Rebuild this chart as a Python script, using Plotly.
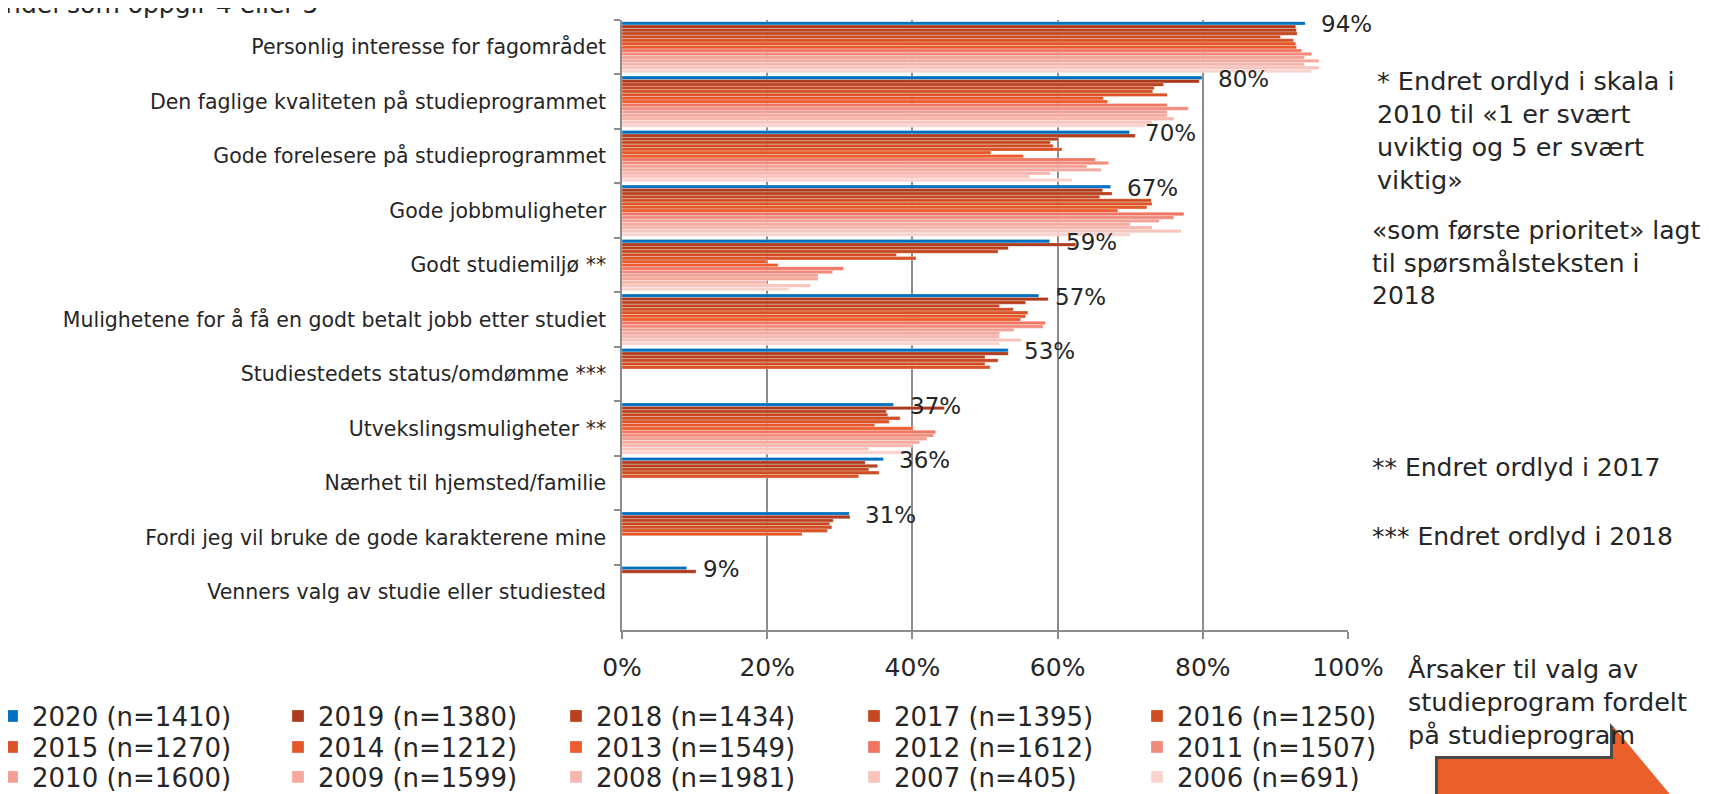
import plotly.graph_objects as go

categories = [
    "Personlig interesse for fagområdet",
    "Den faglige kvaliteten på studieprogrammet",
    "Gode forelesere på studieprogrammet",
    "Gode jobbmuligheter",
    "Godt studiemiljø **",
    "Mulighetene for å få en godt betalt jobb etter studiet",
    "Studiestedets status/omdømme ***",
    "Utvekslingsmuligheter **",
    "Nærhet til hjemsted/familie",
    "Fordi jeg vil bruke de gode karakterene mine",
    "Venners valg av studie eller studiested",
]

series_names = [
    "2020 (n=1410)", "2019 (n=1380)", "2018 (n=1434)", "2017 (n=1395)", "2016 (n=1250)",
    "2015 (n=1270)", "2014 (n=1212)", "2013 (n=1549)", "2012 (n=1612)", "2011 (n=1507)",
    "2010 (n=1600)", "2009 (n=1599)", "2008 (n=1981)", "2007 (n=405)", "2006 (n=691)",
]

# andel (%) per år, i samme rekkefølge som categories
v2020 = [94.1, 79.9, 69.9, 67.3, 58.9, 57.4, 53.2, 37.4, 36.0, 31.3, 8.9]
v2019 = [92.8, 79.5, 70.7, 66.2, 62.5, 58.7, 53.2, 44.4, 33.5, 31.4, 10.2]
v2018 = [92.9, 74.6, 60.1, 67.5, 53.2, 55.6, 50.0, 36.4, 35.2, 29.1, None]
v2017 = [93.0, 73.3, 59.0, 65.8, 51.8, 52.0, 51.8, 36.6, 34.0, 28.6, None]
v2016 = [90.7, 73.1, 59.4, 72.9, 37.8, 53.9, 50.0, 38.3, 35.4, 28.9, None]
v2015 = [92.5, 75.1, 60.6, 73.0, 40.5, 55.9, 50.7, 36.8, 32.6, 28.3, None]
v2014 = [92.8, 66.3, 50.8, 72.3, 19.9, 55.6, None, 34.8, None, 24.8, None]
v2013 = [92.9, 66.9, 55.3, 68.3, 21.5, 54.9, None, 40.1, None, None, None]
v2012 = [93.6, 75.1, 65.2, 77.4, 30.5, 58.3, None, 43.2, None, None, None]
v2011 = [95.0, 78.0, 67.0, 76.0, 29.0, 58.0, None, 42.9, None, None, None]
v2010 = [94.0, 75.1, 64.0, 74.0, 27.0, 54.0, None, 42.0, None, None, None]
v2009 = [96.0, 75.1, 66.0, 70.0, 27.0, 52.0, None, 41.0, None, None, None]
v2008 = [94.0, 76.0, 59.0, 73.0, 19.9, 52.0, None, 40.0, None, None, None]
v2007 = [96.0, 73.0, 56.1, 77.0, 26.0, 55.0, None, 34.0, None, None, None]
v2006 = [95.0, 72.1, 62.0, 70.0, 23.0, 52.0, None, 39.0, None, None, None]

values = [v2020, v2019, v2018, v2017, v2016, v2015, v2014, v2013,
          v2012, v2011, v2010, v2009, v2008, v2007, v2006]

colors = [
    "#0070C0", "#AE3A1E", "#B9401F", "#C44720", "#CF4D22",
    "#DA5226", "#E4572A", "#EE5B2C", "#F07563", "#F28B7C",
    "#F49F93", "#F5A99E", "#F6B6AD", "#F8C4BC", "#F9D4CF",
]

FONT = "DejaVu Sans"
TXT = "#262626"
GRID = "#8c8c8c"

# sidens body-marg flytter figuren 8 px
OFF = 8
W, H = 1709 - OFF, 794 - OFF
# plotområdet i sidepiksler
L, R, T, B = 622, 1348, 20, 630


def px_x(px):
    return (px - L) / (R - L)


def px_y(py):
    return (B - py) / (B - T)


fig = go.Figure()

legend_cols = [33, 319, 597, 895, 1178]
legend_rows = [716, 747, 777]
legends = {}

for i, (name, vals, col) in enumerate(zip(series_names, values, colors)):
    lg = "legend" if i == 0 else f"legend{i + 1}"
    fig.add_trace(go.Bar(
        y=categories,
        x=vals,
        name=name,
        orientation="h",
        marker=dict(color=col, line=dict(color="rgba(255,255,255,0.55)", width=0.5)),
        legend=lg,
        showlegend=True,
        hovertemplate="%{y}: %{x:.0f}%<extra>" + name + "</extra>",
    ))
    legends[lg] = dict(
        x=px_x(legend_cols[i % 5] - 41), xanchor="left",
        y=px_y(legend_rows[i // 5]), yanchor="middle",
        bgcolor="rgba(0,0,0,0)", borderwidth=0, visible=True,
        font=dict(family=FONT, size=26, color=TXT),
    )

# verdietiketter ved 2020-stolpen
annotations = []
for cat, v in zip(categories, v2020):
    annotations.append(dict(
        x=v, y=cat, xref="x", yref="y",
        text=f"{round(v)}%", showarrow=False,
        xanchor="left", yanchor="middle", xshift=14, yshift=23,
        font=dict(family=FONT, size=23, color=TXT),
    ))

notes = [
    ("* Endret ordlyd i skala i<br>2010 til «1 er svært<br>uviktig og 5 er svært<br>viktig»", 1375, 131, 25.5),
    ("«som første prioritet» lagt<br>til spørsmålsteksten i<br>2018", 1370, 263, 25),
    ("** Endret ordlyd i 2017", 1370, 467, 25),
    ("*** Endret ordlyd i 2018", 1370, 536, 25),
    ("Årsaker til valg av<br>studieprogram fordelt<br>på studieprogram", 1406, 702, 25.5),
]
for text, x, y, size in notes:
    annotations.append(dict(
        x=px_x(x), y=px_y(y), xref="paper", yref="paper",
        text=text, showarrow=False, align="left",
        xanchor="left", yanchor="middle",
        font=dict(family=FONT, size=size, color=TXT),
    ))

annotations.append(dict(
    x=px_x(-14), y=px_y(21), xref="paper", yref="paper",
    text="Andel som oppgir 4 eller 5", showarrow=False,
    xanchor="left", yanchor="bottom",
    font=dict(family=FONT, size=25, color=TXT),
))


def arrow_path(dx, dy):
    pts = [(1438, 759), (1613, 759), (1613, 726), (1683, 810),
           (1613, 894), (1613, 861), (1438, 861)]
    s = "M " + " L ".join(f"{px_x(x + dx):.4f},{px_y(y + dy):.4f}" for x, y in pts)
    return s + " Z"


shapes = [
    dict(type="path", xref="paper", yref="paper", path=arrow_path(-3, -3),
         fillcolor="#4a4a4a", line=dict(width=0)),
    dict(type="path", xref="paper", yref="paper", path=arrow_path(0, 0),
         fillcolor="#EA5F2A", line=dict(width=0)),
]

fig.update_layout(
    width=W, height=H,
    margin=dict(l=L - OFF, r=W - (R - OFF), t=T - OFF, b=H - (B - OFF), autoexpand=False),
    showlegend=True,
    barmode="group",
    bargap=0.06,
    bargroupgap=0,
    plot_bgcolor="white",
    paper_bgcolor="white",
    font=dict(family=FONT, color=TXT),
    annotations=annotations,
    shapes=shapes,
    xaxis=dict(
        range=[0, 100], dtick=20, ticksuffix="%",
        showgrid=True, gridcolor=GRID, gridwidth=1.5,
        showline=True, linecolor=GRID, linewidth=1.5,
        ticks="outside", ticklen=7, tickcolor=GRID, tickwidth=1.5,
        zeroline=False,
        tickfont=dict(family=FONT, size=25, color=TXT),
        ticklabelstandoff=7,
    ),
    yaxis=dict(
        autorange="reversed",
        showline=True, linecolor=GRID, linewidth=1.5,
        ticks="outside", tickson="boundaries", ticklen=6,
        tickcolor=GRID, tickwidth=1.5,
        showgrid=False,
        tickfont=dict(family=FONT, size=20.5, color=TXT),
        ticklabelstandoff=10,
    ),
    **legends,
)

fig.write_html("out.html")
